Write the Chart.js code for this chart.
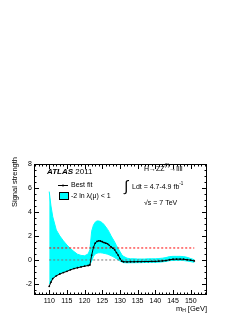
<!DOCTYPE html>
<html lang="en">
<head>
<meta charset="UTF-8">
<title>Signal strength vs mH</title>
<script src="https://cdn.jsdelivr.net/npm/chart.js"></script>
<style>
  body { margin: 0; background: #fff; }
</style>
</head>
<body>
<canvas id="muChart" width="249" height="323"></canvas>
<script>
// Higgs mass hypotheses (GeV)
var masses = [110, 110.5, 111, 112, 113, 114, 115, 116, 117, 118, 119, 120, 121, 121.5,
  122, 122.5, 123, 123.5, 124, 124.5, 125, 125.5, 126, 126.5, 127, 127.5, 128, 128.5,
  129, 129.5, 130, 130.5, 131, 132, 133, 134, 135, 136, 137, 138, 139, 140, 141, 142,
  143, 144, 145, 146, 147, 148, 149, 150, 151];
// best fit signal strength
var bestFit = [-2.2, -1.85, -1.55, -1.32, -1.17, -1.05, -0.95, -0.82, -0.72, -0.65, -0.58, -0.52, -0.46, -0.42,
  0.4, 1.05, 1.4, 1.55, 1.6, 1.58, 1.52, 1.45, 1.4, 1.35, 1.22, 1.08, 0.98, 0.85,
  0.62, 0.4, 0.12, -0.1, -0.15, -0.16, -0.15, -0.15, -0.14, -0.14, -0.13, -0.13, -0.12, -0.12, -0.1, -0.08,
  -0.05, 0.02, 0.06, 0.07, 0.07, 0.06, 0.02, -0.02, -0.08];
// -2 ln lambda(mu) < 1 interval
var bandUp = [5.7, 4.5, 3.6, 2.5, 2.0, 1.6, 1.25, 0.95, 0.7, 0.48, 0.38, 0.35, 0.5, 0.85,
  2.4, 2.9, 3.15, 3.25, 3.25, 3.2, 3.1, 2.95, 2.75, 2.55, 2.3, 2.0, 1.75, 1.5,
  1.2, 0.95, 0.7, 0.45, 0.3, 0.15, 0.1, 0.1, 0.08, 0.08, 0.08, 0.1, 0.1, 0.1, 0.12, 0.15,
  0.2, 0.28, 0.3, 0.3, 0.3, 0.28, 0.22, 0.12, 0.02];
var bandDown = [-2.0, -1.8, -1.5, -1.28, -1.13, -1.0, -0.9, -0.78, -0.68, -0.6, -0.53, -0.47, -0.41, -0.35,
  -0.1, 0.3, 0.5, 0.57, 0.6, 0.6, 0.58, 0.55, 0.52, 0.48, 0.42, 0.35, 0.28, 0.2,
  0.1, 0.0, -0.08, -0.16, -0.22, -0.24, -0.23, -0.23, -0.22, -0.22, -0.21, -0.21, -0.2, -0.2, -0.18, -0.16,
  -0.12, -0.06, -0.04, -0.04, -0.04, -0.05, -0.09, -0.14, -0.2];
var xTickLabels = [110, 115, 120, 125, 130, 135, 140, 145, 150];
var yTickLabels = [-2, 0, 2, 4, 6, 8];

function pts(ys) {
  return masses.map(function (m, i) { return { x: m, y: ys[i] }; });
}
function flat(v) {
  return [{ x: masses[0], y: v }, { x: masses[masses.length - 1], y: v }];
}

var FONT = '"Liberation Sans", Arial, sans-serif';

// draws the frame with inward ticks, axis labels and the text boxes
var atlasFrame = {
  id: 'atlasFrame',
  afterDraw: function (chart) {
    var ctx = chart.ctx, a = chart.chartArea, x = chart.scales.x, y = chart.scales.y;
    ctx.save();
    ctx.strokeStyle = '#000';
    ctx.lineWidth = 1;
    ctx.strokeRect(Math.round(a.left) + 0.5, Math.round(a.top) + 0.5,
      Math.round(a.right - a.left) - 1, Math.round(a.bottom - a.top) - 1);

    function seg(x1, y1, x2, y2) {
      ctx.beginPath(); ctx.moveTo(x1, y1); ctx.lineTo(x2, y2); ctx.stroke();
    }
    // x ticks, minor every 1 GeV
    for (var m = Math.ceil(x.min); m <= x.max; m++) {
      var px = Math.round(x.getPixelForValue(m)) + 0.5;
      var len = (m % 5 === 0) ? 5 : 2.5;
      seg(px, a.bottom, px, a.bottom - len);
      seg(px, a.top, px, a.top + len);
    }
    // y ticks, minor every 0.5
    for (var v = Math.ceil(y.min * 2) / 2; v <= y.max; v += 0.5) {
      var py = Math.round(y.getPixelForValue(v)) + 0.5;
      var l2 = (Math.abs(v % 2) < 1e-6) ? 5 : 2.5;
      seg(a.left, py, a.left + l2, py);
      seg(a.right, py, a.right - l2, py);
    }

    ctx.fillStyle = '#000';
    ctx.font = '7px ' + FONT;
    ctx.textAlign = 'center';
    ctx.textBaseline = 'middle';
    xTickLabels.forEach(function (t) {
      ctx.fillText(String(t), x.getPixelForValue(t), a.bottom + 6);
    });
    ctx.textAlign = 'right';
    yTickLabels.forEach(function (t) {
      ctx.fillText(String(t), a.left - 2, y.getPixelForValue(t));
    });

    // axis titles
    ctx.font = '7.5px ' + FONT;
    ctx.save();
    ctx.translate(15, a.top - 7);
    ctx.rotate(-Math.PI / 2);
    ctx.textAlign = 'right';
    ctx.fillText('Signal strength', 0, 0);
    ctx.restore();

    ctx.textAlign = 'right';
    ctx.fillText(' [GeV]', a.right, 309);
    var w = ctx.measureText(' [GeV]').width;
    ctx.font = '5px ' + FONT;
    ctx.fillText('H', a.right - w, 311);
    var wh = ctx.measureText('H').width;
    ctx.font = '7.5px ' + FONT;
    ctx.fillText('m', a.right - w - wh, 309);

    // ATLAS label
    ctx.textAlign = 'left';
    ctx.font = 'italic bold 8px ' + FONT;
    ctx.fillText('ATLAS', 47, 172);
    var wa = ctx.measureText('ATLAS ').width;
    ctx.font = '8px ' + FONT;
    ctx.fillText('2011', 47 + wa, 172);

    // legend
    ctx.font = '7px ' + FONT;
    seg(58, 185.5, 68, 185.5);
    ctx.beginPath(); ctx.arc(63, 185.5, 1, 0, 2 * Math.PI); ctx.fill();
    ctx.fillText('Best fit', 71, 185);
    ctx.fillStyle = '#00ffff';
    ctx.fillRect(59, 192, 10, 8);
    ctx.strokeRect(59.5, 192.5, 9, 7);
    ctx.fillStyle = '#000';
    ctx.fillText('-2 ln \u03bb(\u03bc) < 1', 71, 196);

    // channel and luminosity
    var xs = 144;
    ctx.fillText('H\u2192ZZ', xs, 169);
    xs += ctx.measureText('H\u2192ZZ').width;
    ctx.font = '4.5px ' + FONT;
    ctx.fillText('(*)', xs, 166);
    xs += ctx.measureText('(*)').width;
    ctx.font = '7px ' + FONT;
    ctx.fillText('\u2192llll', xs, 169);

    ctx.font = '15px ' + FONT;
    ctx.fillText('\u222b', 124, 187);
    ctx.font = '7px ' + FONT;
    ctx.fillText('Ldt = 4.7-4.9 fb', 132, 187);
    var wl = ctx.measureText('Ldt = 4.7-4.9 fb').width;
    ctx.font = '4.5px ' + FONT;
    ctx.fillText('-1', 132 + wl, 184);
    ctx.font = '7px ' + FONT;
    ctx.fillText('\u221as = 7 TeV', 144, 203);
    ctx.restore();
  }
};

var ctx = document.getElementById('muChart').getContext('2d');
new Chart(ctx, {
  type: 'line',
  data: {
    datasets: [
      { label: 'Best fit', data: pts(bestFit), borderColor: '#000', borderWidth: 1,
        pointRadius: 0.9, pointBackgroundColor: '#000', pointBorderWidth: 0, fill: false, order: 0 },
      { label: 'mu = 1', data: flat(1), borderColor: '#ff0000', borderWidth: 1,
        borderDash: [2, 2], pointRadius: 0, fill: false, order: 1 },
      { label: 'mu = 0', data: flat(0), borderColor: '#777', borderWidth: 1,
        borderDash: [2, 2], pointRadius: 0, fill: false, order: 1 },
      { label: 'band up', data: pts(bandUp), borderColor: '#00ffff', borderWidth: 1,
        backgroundColor: '#00ffff', pointRadius: 0, fill: '+1', order: 3 },
      { label: 'band down', data: pts(bandDown), borderColor: '#00ffff', borderWidth: 1,
        pointRadius: 0, fill: false, order: 4 }
    ]
  },
  options: {
    responsive: false,
    animation: false,
    devicePixelRatio: 1,
    layout: { padding: { left: 34, right: 42, top: 164, bottom: 28 } },
    elements: { line: { tension: 0 } },
    plugins: { legend: { display: false }, tooltip: { enabled: false } },
    scales: {
      x: { type: 'linear', display: false, min: 105.7, max: 154.6 },
      y: { display: false, min: -2.92, max: 8 }
    }
  },
  plugins: [atlasFrame]
});
</script>
</body>
</html>
